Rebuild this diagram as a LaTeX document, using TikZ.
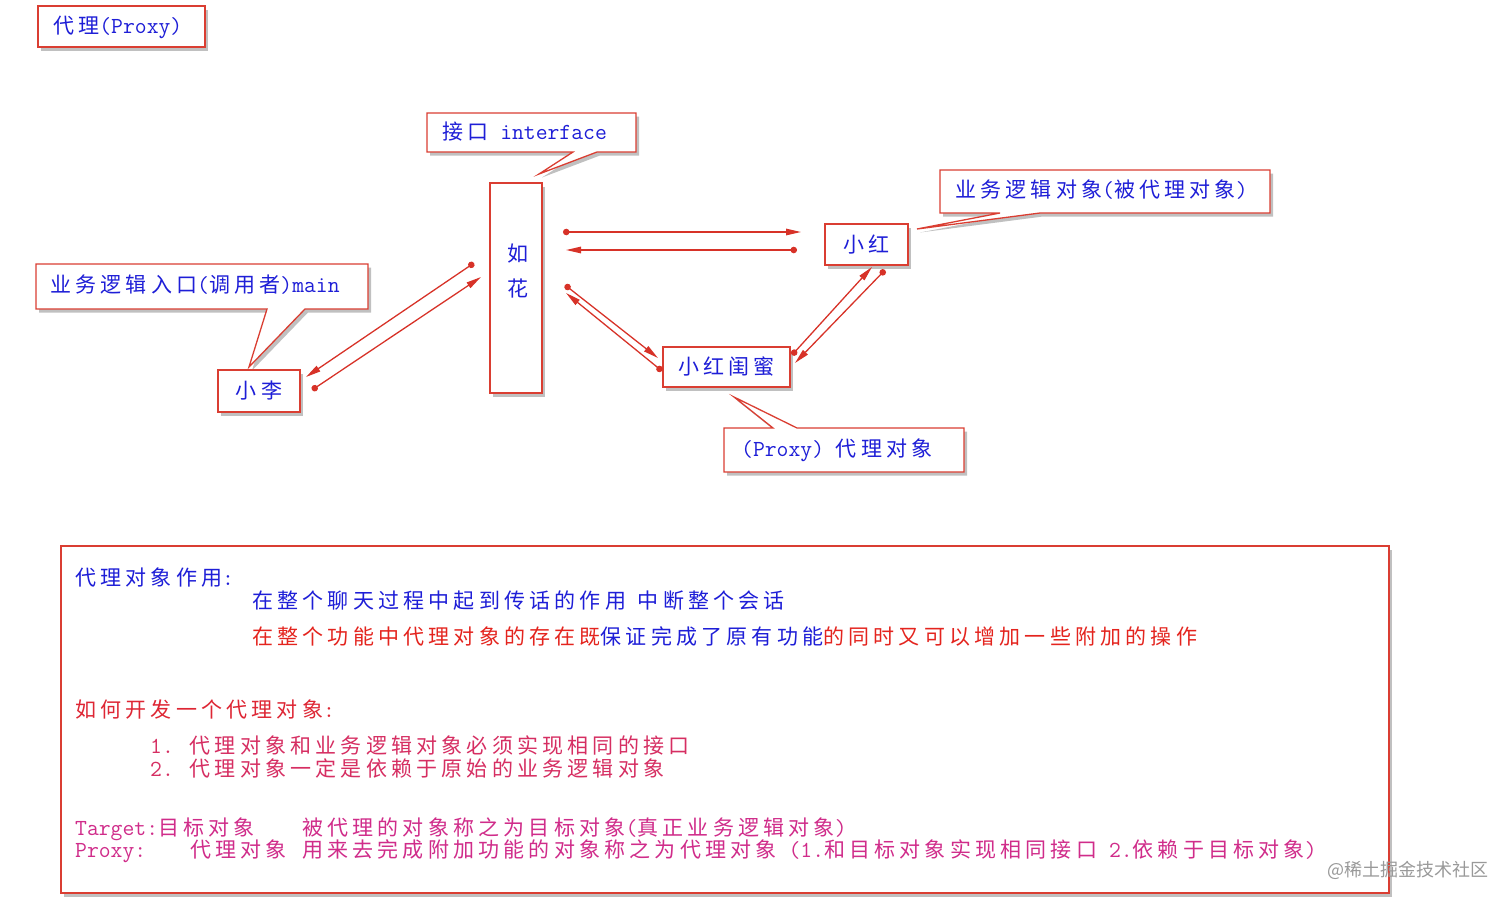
\documentclass[tikz,border=0pt]{standalone}
\usepackage{fontspec}
\newfontfamily\cjk[LetterSpace=20]{Noto Sans CJK SC}
\newfontfamily\wmfont{Noto Sans CJK SC}
\newfontfamily\monofam{Latin Modern Mono}
\usetikzlibrary{arrows.meta,shadows,calc}
\definecolor{boxc}{RGB}{218,62,50}
\definecolor{arrc}{RGB}{215,50,40}
\definecolor{txtb}{RGB}{30,30,215}
\definecolor{txtr}{RGB}{228,36,30}
\definecolor{txtc}{RGB}{222,38,52}
\definecolor{txtl}{RGB}{214,46,98}
\definecolor{txtp}{RGB}{208,44,138}
\newcommand\mo[1]{{\fontsize{23}{24}\monofam #1}}
\begin{document}
\begin{tikzpicture}[x=1pt,y=-1pt,
  every node/.style={font=\fontsize{21}{24}\cjk, inner sep=0pt},
  shad/.style={drop shadow={shadow xshift=3pt,shadow yshift=-3.5pt,fill=black!55,opacity=.45}},
  boxnode/.style={draw=boxc, line width=1.3pt, fill=white, shad, text=txtb},
  callout/.style={draw=boxc, line width=1.3pt, fill=white, shad},
  lbl/.style={anchor=west, text=txtb},
  conn/.style={draw=arrc, line width=1.3pt, {Circle[length=6.5pt]}-{Triangle[length=15pt,width=6.5pt]}}
]
\useasboundingbox (0,0) rectangle (1512,905);

% title
\node[boxnode, minimum width=167pt, minimum height=41pt] (title) at (121.5,26.5) {};
\node[lbl] (titletext) at (53,27) {代理\mo{(Proxy)}};

% interface callout
\path[callout] (427,113) -- (636,113) -- (636,152) -- (597,152) -- (539,174) -- (573,152) -- (427,152) -- cycle;
\node[lbl] (ifc) at (442,132) {接口\mo{ interface}};

% main callout
\path[callout] (36,264) -- (368,264) -- (368,309) -- (305,309) -- (249,367) -- (267,309) -- (36,309) -- cycle;
\node[lbl] (maintext) at (50,285) {业务逻辑入口\mo{(}调用者\mo{)main}};

% business object callout
\path[callout] (940,170) -- (1270,170) -- (1270,213) -- (1040,213) -- (917,229) -- (1000,213) -- (940,213) -- cycle;
\node[lbl] (bizt) at (955,190) {业务逻辑对象\mo{(}被代理对象\mo{)}};

% proxy callout
\path[callout] (724,428) -- (773,428) -- (734,397) -- (797,428) -- (964,428) -- (964,472) -- (724,472) -- cycle;
\node[lbl] (proxyt) at (741,450) {\mo{(Proxy) }代理对象};

% main boxes
\node[boxnode, minimum width=52pt, minimum height=210pt] (ruhua) at (516,288) {};
\node[text=txtb] (ru) at (518,254) {如};
\node[text=txtb] (hua) at (518,289) {花};
\node[boxnode, minimum width=83pt, minimum height=41pt] (xh) at (866.5,244.5) {小红};
\node[boxnode, minimum width=127pt, minimum height=40pt] (gm) at (726.5,367) {小红闺蜜};
\node[boxnode, minimum width=82pt, minimum height=42pt] (xl) at (259,391) {小李};

% connector end points
\coordinate (r1s) at (563,232); \coordinate (r1e) at (801,232);
\coordinate (r2s) at (797,250); \coordinate (r2e) at (566,250);
\coordinate (m1s) at (565,285); \coordinate (m1e) at (658,358);
\coordinate (m2s) at (662,371); \coordinate (m2e) at (566,293);
\coordinate (h1s) at (792,355); \coordinate (h1e) at (872,267);
\coordinate (h2s) at (885,270); \coordinate (h2e) at (795,363);
\coordinate (l1s) at (474,263); \coordinate (l1e) at (306,377);
\coordinate (l2s) at (312,390); \coordinate (l2e) at (481,277);
\foreach \a in {r1,r2,m1,m2,h1,h2,l1,l2}{\draw[conn] (\a s) -- (\a e);}

% bottom box
\node[boxnode, minimum width=1328pt, minimum height=347pt] (info) at (725,719.5) {};
\node[lbl] (t1) at (75,578) {代理对象作用\mo{:}};
\node[lbl] (t2) at (252,601) {在整个聊天过程中起到传话的作用\mo{ }中断整个会话};
\node[lbl, text=txtr] (t3) at (252,636) {在整个功能中代理对象的存在既{\color{txtb}保证完成了原有功能}的同时又可以增加一些附加的操作};
\node[lbl, text=txtc] (t4) at (75,710) {如何开发一个代理对象\mo{:}};
\node[lbl, text=txtl] (t5) at (150,745) {\mo{1. }代理对象和业务逻辑对象必须实现相同的接口};
\node[lbl, text=txtl] (t6) at (150,768) {\mo{2. }代理对象一定是依赖于原始的业务逻辑对象};
\node[lbl, text=txtp] (t7) at (75,829) {\makebox[227pt][l]{\mo{Target:}目标对象}被代理的对象称之为目标对象\mo{(}真正业务逻辑对象\mo{)}};
\node[lbl, text=txtp] (t8) at (75,851) {\makebox[115pt][l]{\mo{Proxy:}}\makebox[112pt][l]{代理对象}用来去完成附加功能的对象称之为代理对象\mo{ (1.}和目标对象实现相同接口\mo{ 2.}依赖于目标对象\mo{)}};

% watermark
\node[anchor=west, text=black!40, font=\fontsize{18}{20}\wmfont] (wm) at (1327,870) {@稀土掘金技术社区};
\end{tikzpicture}
\end{document}
